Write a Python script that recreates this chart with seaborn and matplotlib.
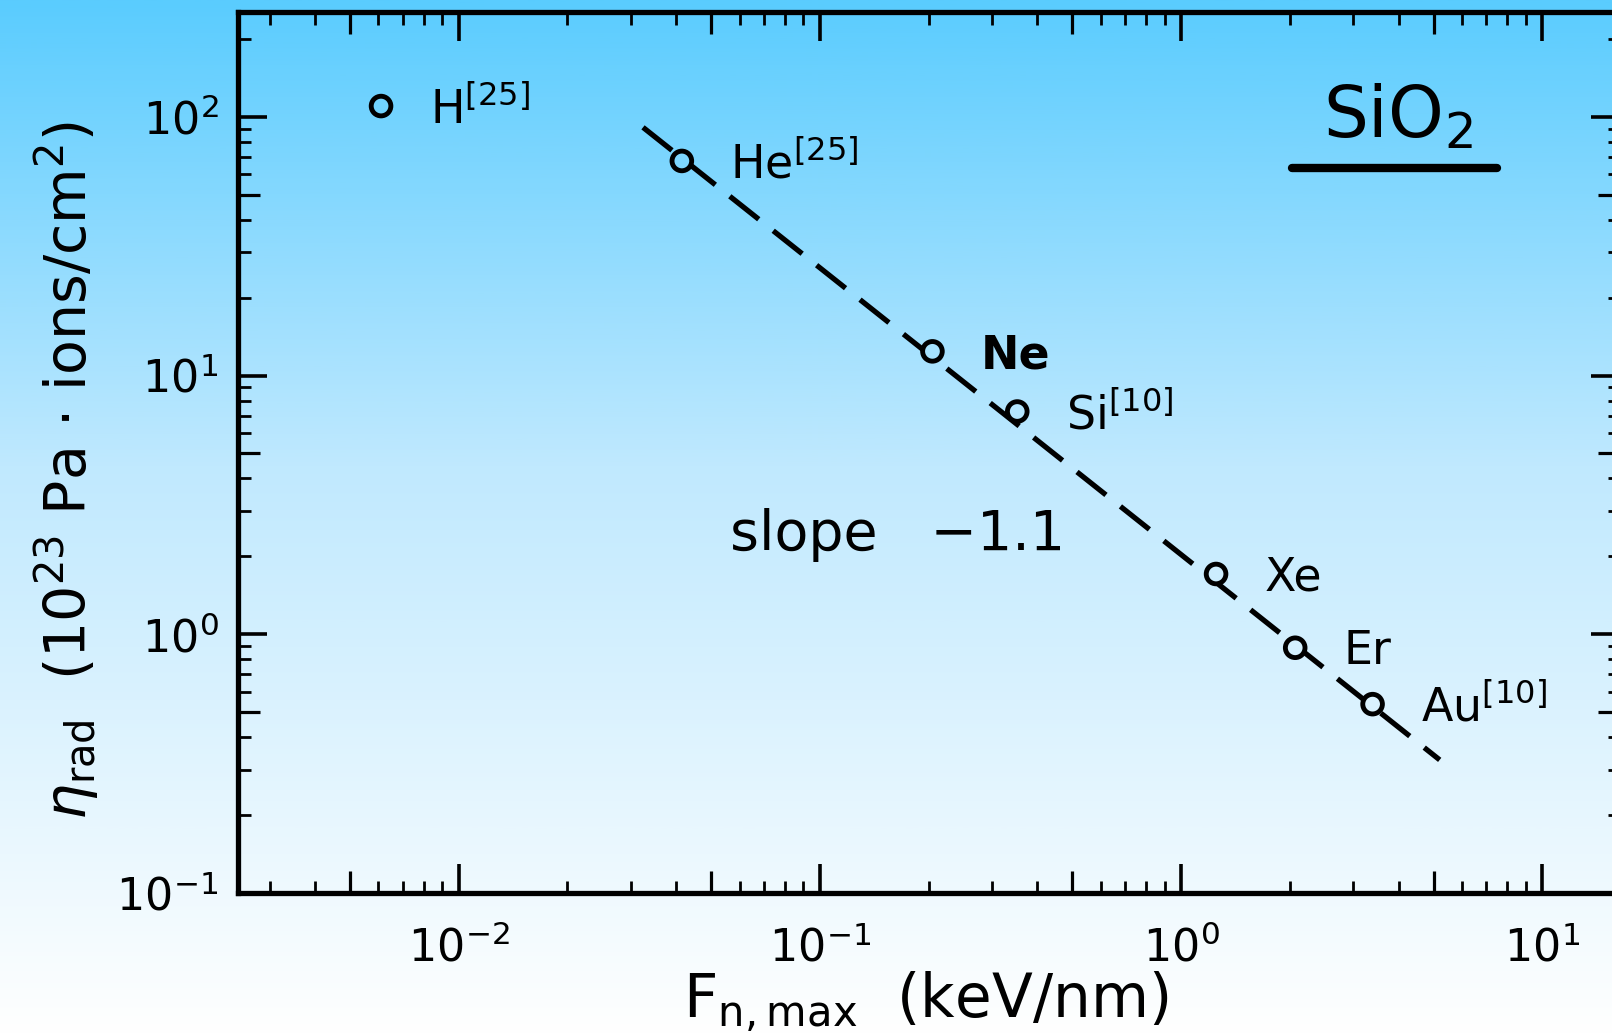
import numpy as np
import matplotlib
matplotlib.use('Agg')
import matplotlib.pyplot as plt
import seaborn as sns
from matplotlib.colors import LinearSegmentedColormap
from matplotlib.ticker import (LogLocator, LogFormatterMathtext, NullFormatter,
                               NullLocator, FixedLocator)

sns.set_theme(style='ticks')
plt.rcParams['font.family'] = ['DejaVu Sans']
plt.rcParams['mathtext.fontset'] = 'dejavusans'

# Values
ions = ['H', 'He', 'Ne', 'Si', 'Xe', 'Er', 'Au']
ion_labels = [r'H$^{[25]}$', r'He$^{[25]}$', 'Ne', r'Si$^{[10]}$', 'Xe', 'Er', r'Au$^{[10]}$']
bold_ions = ['Ne']
f_nmax = [0.0061, 0.0415, 0.205, 0.352, 1.25, 2.07, 3.39]      # keV/nm
eta_rad = [110.0, 67.5, 12.4, 7.26, 1.71, 0.887, 0.537]         # 1e23 Pa ions/cm2

# dashed fit, slope -1.1
fit_x = [0.0324, 5.2]
fit_y = [91.0, 0.327]

xlim = (2.45e-3, 16.4)
ylim = (0.1, 254)

fig = plt.figure(figsize=(16.12, 10.36), dpi=100)

# background gradient (bottom -> top)
bg_cmap = LinearSegmentedColormap.from_list(
    'bg', [(0.0, '#ffffff'), (0.55, '#c0e9fe'), (1.0, '#5accfe')])
bg = fig.add_axes([0, 0, 1, 1], zorder=0)
bg.imshow(np.linspace(0, 1, 512).reshape(-1, 1), cmap=bg_cmap, aspect='auto',
          origin='lower', extent=[0, 1, 0, 1])
bg.axis('off')

ax = fig.add_axes([0.1476, 0.1380, 0.8573, 0.8504], zorder=1)
ax.set_facecolor('none')
ax.set_xscale('log')
ax.set_yscale('log')
ax.set_xlim(*xlim)
ax.set_ylim(*ylim)

# fit line
sns.lineplot(x=fit_x, y=fit_y, ax=ax, color='black', linewidth=3.8, zorder=2)
ax.lines[-1].set_dashes((7, 3.5))

# open circles, filled with the local background colour
pts = ax.transData.transform(np.column_stack([f_nmax, eta_rad]))
face = [bg_cmap(p / fig.bbox.height) for p in pts[:, 1]]
sns.scatterplot(x=f_nmax, y=eta_rad, ax=ax, s=200, facecolors=face,
                edgecolor='black', linewidth=3.5, zorder=3)

for x, y, lab, ion in zip(f_nmax, eta_rad, ion_labels, ions):
    ax.annotate(lab, (x, y), xytext=(35, -12), textcoords='offset points',
                fontsize=33, ha='left', va='baseline', color='black',
                fontweight='bold' if ion in bold_ions else 'normal')

ax.text(0.785, 0.858, r'SiO$_2$', transform=ax.transAxes, fontsize=51,
        ha='left', va='baseline', color='black')
ax.plot([0.763, 0.911], [0.823, 0.823], transform=ax.transAxes, color='black',
        lw=6, solid_capstyle='round')
ax.text(0.356, 0.389, 'slope   \u22121.1', transform=ax.transAxes, fontsize=40,
        ha='left', va='baseline', color='black')

# ticks
for axis in (ax.xaxis, ax.yaxis):
    axis.set_major_locator(LogLocator(base=10, numticks=20))
    axis.set_major_formatter(LogFormatterMathtext())
    axis.set_minor_locator(LogLocator(base=10, subs=(2, 3, 4, 6, 7, 8, 9), numticks=20))
    axis.set_minor_formatter(NullFormatter())
ax.tick_params(which='both', direction='in', top=True, right=True,
               color='black', labelcolor='black')
ax.tick_params(which='major', length=21, width=2.6, labelsize=32)
ax.tick_params(axis='x', which='major', pad=24)
ax.tick_params(axis='y', which='major', pad=14)
ax.tick_params(which='minor', length=9, width=2.0)
for s in ax.spines.values():
    s.set_linewidth(3.8)
    s.set_color('black')

# medium-length ticks at 5 x 10^n
fives_x = [5 * 10.0 ** k for k in range(-3, 2)]
fives_y = [5 * 10.0 ** k for k in range(-1, 3)]
for loc in ['bottom', 'top']:
    sec = ax.secondary_xaxis(loc)
    sec.xaxis.set_major_locator(FixedLocator(fives_x))
    sec.xaxis.set_minor_locator(NullLocator())
    sec.tick_params(direction='in', length=16, width=2.3, color='black',
                    labelbottom=False, labeltop=False)
    for s in sec.spines.values():
        s.set_visible(False)
for loc in ['left', 'right']:
    sec = ax.secondary_yaxis(loc)
    sec.yaxis.set_major_locator(FixedLocator(fives_y))
    sec.yaxis.set_minor_locator(NullLocator())
    sec.tick_params(direction='in', length=16, width=2.3, color='black',
                    labelleft=False, labelright=False)
    for s in sec.spines.values():
        s.set_visible(False)

ax.set_xlabel(r'F$_{\rm n,max}$  (keV/nm)', fontsize=43, color='black')
ax.xaxis.set_label_coords(0.498, -0.086)
ax.set_ylabel(r'$\eta_{\rm rad}$  (10$^{23}$ Pa $\cdot$ ions/cm$^{2}$)', fontsize=41,
              color='black')
ax.yaxis.set_label_coords(-0.099, 0.48)

ax.set_xlim(*xlim)
ax.set_ylim(*ylim)

plt.savefig('out.png', dpi=100)
